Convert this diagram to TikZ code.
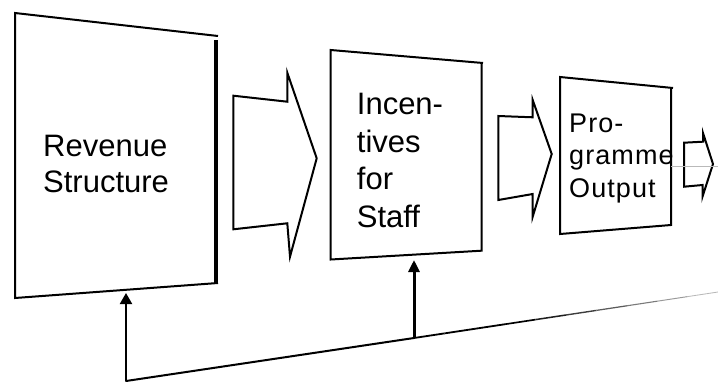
\documentclass[tikz,border=0pt]{standalone}
\usepackage{fontspec}
\setmainfont{Liberation Sans}
\newfontfamily\spacedfont[LetterSpace=4]{Liberation Sans}
\usetikzlibrary{arrows.meta,calc}
\begin{document}
\begin{tikzpicture}[x=1pt,y=-1pt,
  boxline/.style={line width=2pt,line join=miter},
  thickedge/.style={line width=4pt},
  blockarrow/.style={line width=2pt,line join=miter,fill=white},
  fbline/.style={line width=2pt},
  lbl/.style={inner sep=0pt,anchor=north west,align=left}]
\useasboundingbox[fill=white] (0,0) rectangle (718,383);
% box 1
\draw[boxline] (218,36) -- (15,13) -- (15,298) -- (218,283);
\draw[thickedge] (216,40) -- (216,283);
\node[lbl,font=\fontsize{31}{36}\selectfont] (rev) at (43,135) {Revenue\\Structure};
% arrow 1
\draw[blockarrow] (233.3,95.7) -- (287.3,101.7) -- (287.3,72.7) -- (316.7,158.3)
  -- (290,256.7) -- (287.3,223.3) -- (233.3,229.3) -- cycle;
% box 2
\draw[boxline] (483,63) -- (330.7,50) -- (330.7,259.5) -- (481.5,250.7) -- (481.5,63);
\node[lbl,font=\fontsize{31}{37.7}\selectfont] (inc) at (356.7,93) {Incen-\\tives\\for\\Staff};
% arrow 2
\draw[blockarrow] (498.3,116) -- (532.7,117.3) -- (532.7,100) -- (551.7,154)
  -- (532.7,216.7) -- (532.7,194) -- (498.3,200) -- cycle;
% box 3
\draw[boxline] (673,88) -- (560,77) -- (560,234) -- (671,225) -- (671,88);
\node[lbl,font=\spacedfont\fontsize{27}{32.7}\selectfont] (prog) at (569,113.3) {Pro-\\gramme\\Output};
% arrow 3
\draw[blockarrow] (684,142.7) -- (703,141.7) -- (703,133) -- (713,164)
  -- (702.5,196.7) -- (702.5,185) -- (684,186.7) -- cycle;
\coordinate (g1) at (671,166);
\coordinate (g2) at (718,166);
\draw[gray!55,line width=0.6pt] (g1) -- (g2);
% feedback
\coordinate (c1) at (126,381);
\coordinate (t1) at (126,293);
\coordinate (b2) at (414,338);
\coordinate (t2) at (414,260);
\coordinate (e) at (718,292);
\draw[fbline,-{Triangle[width=12pt,length=11pt]}] (c1) -- (t1);
\draw[line width=3pt,-{Triangle[width=11pt,length=12pt]}] (b2) -- (t2);
\draw[fbline,line cap=round] (c1) -- (b2);
\foreach \i in {0,...,9}{
  \pgfmathsetmacro{\wd}{max(0.8,1.8-0.14*max(0,\i-2))}
  \pgfmathsetmacro{\sh}{max(20,100-12*max(0,\i-3))}
  \draw[line width=\wd pt,black!\sh] ($(b2)!\i/10!(e)$) -- ($(b2)!\i/10+0.1!(e)$);
}
\end{tikzpicture}
\end{document}
